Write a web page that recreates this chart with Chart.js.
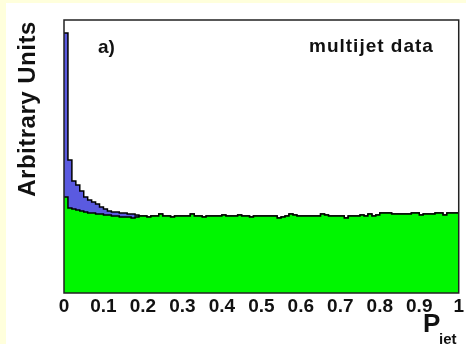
<!DOCTYPE html>
<html>
<head>
<meta charset="utf-8">
<script src="https://cdn.jsdelivr.net/npm/chart.js@4"></script>
<style>
  html, body { margin: 0; padding: 0; }
  body { width: 466px; height: 344px; background: #ffffdc; position: relative; overflow: hidden; }
  #wrap { position: absolute; left: 6px; top: 3px; width: 460px; height: 341px; background: #fff; }
</style>
</head>
<body>
<div id="wrap"><canvas id="pjetChart" width="460" height="341"></canvas></div>
<script>
// P_jet histogram, 100 bins from 0 to 1
const binWidth = 0.01;

// background (green) contents per bin
const greenCounts = [
    96, 85, 84, 83, 82, 81, 80, 80, 79, 79,
    78, 78, 77, 77, 76, 76, 76, 75, 76, 77,
    77, 76, 77, 77, 79, 77, 77, 76, 77, 77,
    77, 77, 79, 77, 77, 76, 77, 77, 77, 77,
    78, 77, 77, 77, 78, 77, 77, 76, 77, 77,
    77, 77, 77, 77, 75, 76, 77, 79, 78, 77,
    77, 77, 77, 77, 77, 79, 78, 77, 77, 77,
    77, 75, 77, 77, 77, 78, 77, 79, 77, 78,
    80, 80, 80, 79, 79, 79, 79, 79, 80, 80,
    78, 79, 79, 79, 80, 80, 78, 80, 80, 80
];

// total multijet data (blue) contents per bin
const totalCounts = [
    260, 133, 112, 108, 102, 96, 93, 91, 89, 86,
    84, 82, 81, 81, 80, 80, 79, 79, 78, 77,
    77, 76, 77, 77, 79, 77, 77, 76, 77, 77,
    77, 77, 79, 77, 77, 76, 77, 77, 77, 77,
    78, 77, 77, 77, 78, 77, 77, 76, 77, 77,
    77, 77, 77, 77, 75, 76, 77, 79, 78, 77,
    77, 77, 77, 77, 77, 79, 78, 77, 77, 77,
    77, 75, 77, 77, 77, 78, 77, 79, 77, 78,
    80, 80, 80, 79, 79, 79, 79, 79, 80, 80,
    78, 79, 79, 79, 80, 80, 78, 80, 80, 80
];

const xTicks = [0, 0.1, 0.2, 0.3, 0.4, 0.5, 0.6, 0.7, 0.8, 0.9, 1];

// step points at bin edges, last bin closed at x = 1
function toSteps(counts) {
    const pts = counts.map((v, i) => ({ x: i * binWidth, y: v }));
    pts.push({ x: counts.length * binWidth, y: counts[counts.length - 1] });
    return pts;
}

const FONT = '"Liberation Sans", Arial, Helvetica, sans-serif';

const decorPlugin = {
    id: 'decor',
    afterDatasetsDraw(chart) {
        const ctx = chart.ctx;
        const a = chart.chartArea;
        ctx.save();
        // frame
        ctx.strokeStyle = '#222';
        ctx.lineWidth = 1.5;
        ctx.strokeRect(a.left, a.top, a.right - a.left, a.bottom - a.top);

        ctx.fillStyle = '#111';
        ctx.textBaseline = 'alphabetic';
        ctx.textAlign = 'left';
        ctx.font = 'bold 19px ' + FONT;
        ctx.fillText('a)', 92, 50);
        ctx.letterSpacing = '1px';
        ctx.fillText('multijet data', 303, 49);
        ctx.letterSpacing = '0px';

        // x axis title P_jet
        ctx.font = 'bold 26px ' + FONT;
        ctx.fillText('P', 417, 329);
        ctx.font = 'bold 15px ' + FONT;
        ctx.fillText('jet', 433, 341);

        // y axis title
        ctx.translate(29, 106);
        ctx.rotate(-Math.PI / 2);
        ctx.textAlign = 'center';
        ctx.font = 'bold 24px ' + FONT;
        ctx.letterSpacing = '0.5px';
        ctx.fillText('Arbitrary Units', 0, 0);
        ctx.letterSpacing = '0px';
        ctx.restore();
    }
};

new Chart(document.getElementById('pjetChart').getContext('2d'), {
    type: 'line',
    data: {
        datasets: [
            {
                label: 'background',
                data: toSteps(greenCounts),
                stepped: 'before',
                fill: 'origin',
                backgroundColor: '#00f600',
                borderColor: '#000',
                borderWidth: 1.5,
                pointRadius: 0
            },
            {
                label: 'multijet data',
                data: toSteps(totalCounts),
                stepped: 'before',
                fill: 'origin',
                backgroundColor: '#5a5ae0',
                borderColor: '#000',
                borderWidth: 1.5,
                pointRadius: 0
            }
        ]
    },
    options: {
        responsive: false,
        animation: false,
        layout: { padding: { left: 58, top: 17, right: 4, bottom: 0 } },
        plugins: { legend: { display: false }, tooltip: { enabled: false } },
        scales: {
            x: {
                type: 'linear',
                min: 0,
                max: 1,
                afterBuildTicks: scale => { scale.ticks = xTicks.map(v => ({ value: v })); },
                afterFit: scale => { scale.height = 51; },
                grid: { display: false, drawTicks: false },
                border: { display: false },
                ticks: {
                    padding: 2,
                    color: '#111',
                    maxRotation: 0,
                    autoSkip: false,
                    font: { family: FONT, size: 19, weight: 'bold' },
                    callback: v => String(+v.toFixed(1))
                }
            },
            y: {
                display: false,
                min: 0,
                max: 273
            }
        }
    },
    plugins: [decorPlugin]
});
</script>
</body>
</html>
